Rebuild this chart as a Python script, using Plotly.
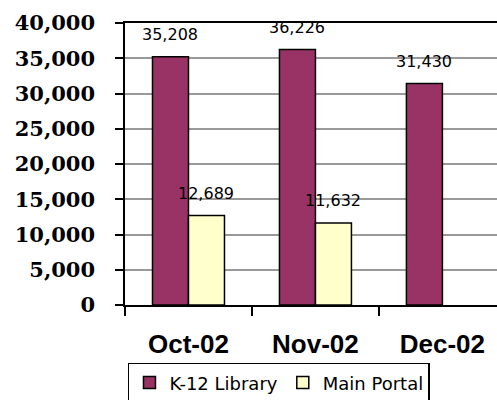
import plotly.graph_objects as go

categories = ["Oct-02", "Nov-02", "Dec-02"]
k12_library = [35208, 36226, 31430]
main_portal = [12689, 11632, None]
y_ticks = [0, 5000, 10000, 15000, 20000, 25000, 30000, 35000, 40000]

BARGAP = 0.433
half = (1 - BARGAP) / 4  # offset of each bar center from category center

fig = go.Figure()
fig.add_trace(go.Bar(
    name="K-12 Library", x=categories, y=k12_library,
    marker=dict(color="#993366", line=dict(color="#000000", width=1.5)),
))
fig.add_trace(go.Bar(
    name="Main Portal", x=categories, y=main_portal,
    marker=dict(color="#FFFFCC", line=dict(color="#000000", width=1.5)),
))

for series, off in ((k12_library, -half), (main_portal, half)):
    for i, v in enumerate(series):
        if v is None:
            continue
        fig.add_annotation(
            x=i + off, y=v, xref="x", yref="y", text=f"{v:,}",
            showarrow=False, yshift=22, yanchor="middle",
            font=dict(family="DejaVu Sans", size=16, color="#000000"),
        )

fig.update_layout(
    width=497, height=400,
    margin=dict(l=125, r=0, t=23, b=95, autoexpand=False),
    paper_bgcolor="white", plot_bgcolor="white",
    barmode="group", bargap=BARGAP, bargroupgap=0,
    showlegend=True,
    legend=dict(
        orientation="h", x=0.008, xanchor="left", y=-0.205, yanchor="top",
        bordercolor="#000000", borderwidth=1.5,
        font=dict(family="DejaVu Sans", size=18, color="#000000"),
        itemwidth=30, tracegroupgap=0,
    ),
    xaxis=dict(
        type="category", range=[-0.5, 2.43], automargin=False,
        showline=True, linecolor="#000000", linewidth=1.5, mirror=True,
        ticks="outside", tickson="boundaries", ticklen=9, tickcolor="#000000", tickwidth=1.5,
        tickfont=dict(family="Liberation Sans", size=26, color="#000000", weight="bold"),
        ticklabelstandoff=15,
        showgrid=False,
    ),
    yaxis=dict(
        range=[0, 40000], tickvals=y_ticks, tickformat=",", automargin=False,
        showline=True, linecolor="#000000", linewidth=1.5,
        ticks="outside", ticklen=8, tickcolor="#000000", tickwidth=1.5,
        tickfont=dict(family="DejaVu Serif", size=21, color="#000000", weight="bold"),
        ticklabelstandoff=16,
        showgrid=True, gridcolor="#999999", gridwidth=1.5,
        zeroline=False,
    ),
)

fig.write_html(
    "out.html",
    config={"displayModeBar": False},
    post_script="document.body.style.margin='0';document.body.style.overflow='hidden';",
)
